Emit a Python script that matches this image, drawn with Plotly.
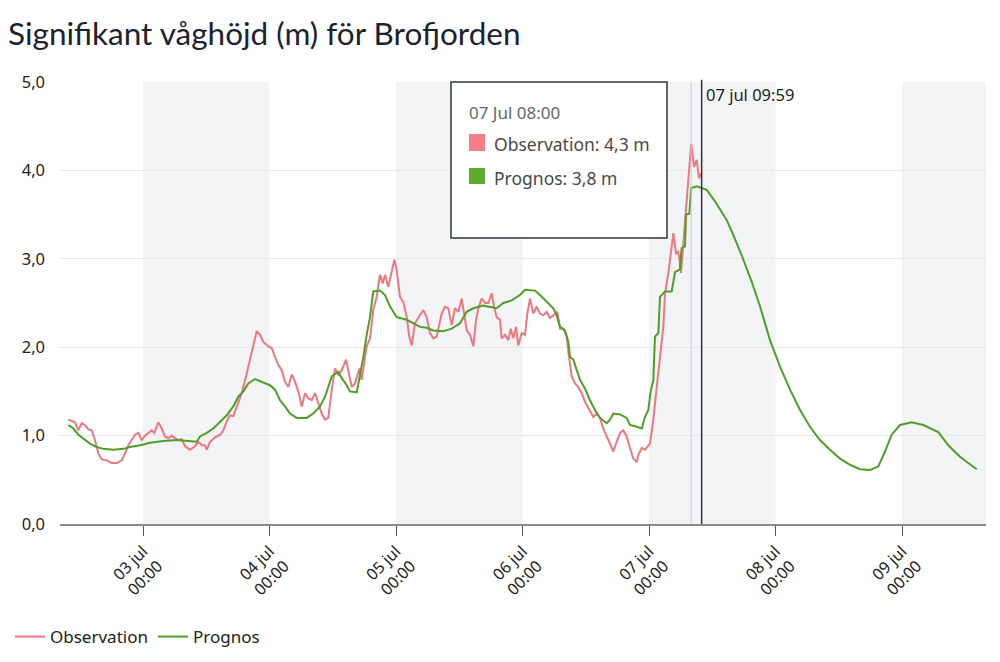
import plotly.graph_objects as go

# ---------------- data ----------------
obs_time = [
    "02 09:50", "02 11:06", "02 11:43", "02 12:22", "02 13:00", "02 13:37", "02 14:16", "02 14:53",
    "02 15:31", "02 16:10", "02 17:07", "02 18:04", "02 19:01", "02 19:58", "02 20:35", "02 21:13",
    "02 21:51", "02 22:29", "02 23:07", "02 23:45", "03 00:23", "03 01:00", "03 01:39", "03 02:09",
    "03 02:54", "03 03:33", "03 04:10", "03 04:48", "03 05:27", "03 06:04", "03 06:42", "03 07:20",
    "03 07:58", "03 08:55", "03 09:52", "03 10:29", "03 11:08", "03 11:46", "03 12:05", "03 12:43",
    "03 13:40", "03 14:37", "03 15:14", "03 15:53", "03 16:30", "03 17:08", "03 17:47", "03 18:44",
    "03 19:40", "03 20:37", "03 21:34", "03 22:12", "03 22:49", "03 23:46", "04 00:25", "04 01:03",
    "04 01:40", "04 02:19", "04 02:56", "04 03:34", "04 04:13", "04 04:50", "04 05:28", "04 06:07",
    "04 06:44", "04 07:22", "04 08:00", "04 08:38", "04 09:15", "04 09:54", "04 10:32", "04 11:09",
    "04 11:48", "04 12:26", "04 13:03", "04 13:42", "04 14:31", "04 14:57", "04 15:36", "04 16:13",
    "04 17:02", "04 17:29", "04 17:56", "04 18:26", "04 19:04", "04 19:41", "04 20:20", "04 20:58",
    "04 21:29", "04 21:55", "04 22:32", "04 23:11", "04 23:41", "05 00:08", "05 00:45", "05 01:23",
    "05 02:02", "05 02:31", "05 02:59", "05 03:36", "05 04:25", "05 05:11", "05 05:49", "05 06:27",
    "05 07:05", "05 07:43", "05 08:40", "05 09:18", "05 09:55", "05 10:34", "05 11:11", "05 11:49",
    "05 12:28", "05 12:54", "05 13:25", "05 14:02", "05 14:40", "05 15:11", "05 15:37", "05 16:16",
    "05 16:53", "05 17:31", "05 18:09", "05 18:35", "05 19:06", "05 19:44", "05 20:03", "05 20:41",
    "05 21:18", "05 21:46", "05 22:15", "05 22:46", "05 23:12", "05 23:51", "06 00:28", "06 00:55",
    "06 01:25", "06 02:03", "06 02:41", "06 03:19", "06 03:56", "06 04:35", "06 05:13", "06 05:50",
    "06 06:36", "06 07:07", "06 07:44", "06 08:23", "06 08:41", "06 09:20", "06 09:58", "06 10:35",
    "06 11:14", "06 11:52", "06 12:29", "06 13:26", "06 14:05", "06 14:42", "06 15:20", "06 15:58",
    "06 16:36", "06 17:14", "06 17:52", "06 18:30", "06 19:07", "06 19:46", "06 20:23", "06 21:01",
    "06 21:40", "06 21:58", "06 22:37", "06 23:14", "07 00:11", "07 00:49", "07 01:28", "07 02:05",
    "07 02:43", "07 03:02", "07 03:40", "07 04:18", "07 04:37", "07 05:07", "07 05:34", "07 06:04",
    "07 06:31", "07 07:01", "07 07:27", "07 07:47", "07 08:00", "07 08:32", "07 09:03", "07 09:29",
    "07 09:52",
]
obs_value = [
    1.18, 1.15, 1.06, 1.14, 1.12, 1.07, 1.06, 0.95,
    0.80, 0.73, 0.72, 0.69, 0.69, 0.72, 0.80, 0.89,
    0.95, 1.01, 1.03, 0.95, 1.00, 1.03, 1.06, 1.03,
    1.15, 1.08, 0.99, 0.97, 1.00, 0.97, 0.95, 0.96,
    0.88, 0.84, 0.88, 0.93, 0.89, 0.89, 0.84, 0.93,
    0.98, 1.01, 1.06, 1.16, 1.23, 1.22, 1.33, 1.48,
    1.70, 1.93, 2.18, 2.14, 2.06, 2.01, 1.99, 1.89,
    1.80, 1.74, 1.61, 1.55, 1.69, 1.61, 1.50, 1.33,
    1.48, 1.42, 1.40, 1.48, 1.38, 1.25, 1.18, 1.20,
    1.52, 1.76, 1.69, 1.74, 1.86, 1.74, 1.55, 1.59,
    1.76, 1.63, 1.82, 2.01, 2.10, 2.42, 2.57, 2.82,
    2.72, 2.82, 2.68, 2.87, 2.99, 2.87, 2.57, 2.51,
    2.34, 2.12, 2.02, 2.27, 2.34, 2.42, 2.34, 2.16,
    2.10, 2.12, 2.38, 2.46, 2.44, 2.25, 2.44, 2.40,
    2.55, 2.38, 2.19, 2.14, 2.01, 2.31, 2.44, 2.55,
    2.50, 2.50, 2.61, 2.46, 2.34, 2.31, 2.10, 2.14,
    2.08, 2.21, 2.10, 2.23, 2.02, 2.16, 2.14, 2.38,
    2.55, 2.38, 2.46, 2.38, 2.36, 2.40, 2.33, 2.36,
    2.40, 2.21, 2.21, 2.12, 1.95, 1.67, 1.59, 1.55,
    1.48, 1.38, 1.31, 1.21, 1.25, 1.20, 1.08, 0.99,
    0.89, 0.82, 0.93, 1.03, 1.06, 0.99, 0.86, 0.74,
    0.70, 0.78, 0.86, 0.84, 0.91, 1.18, 1.55, 1.86,
    2.23, 2.61, 2.84, 3.14, 3.29, 3.06, 3.08, 2.84,
    3.18, 3.48, 3.82, 4.12, 4.30, 4.04, 4.12, 3.91,
    3.97,
]

prog_time = [
    "02 09:50", "02 10:47", "02 11:44", "02 13:00", "02 13:56", "02 15:13", "02 16:28", "02 18:22",
    "02 20:16", "02 21:32", "02 23:26", "03 01:20", "03 03:51", "03 06:24", "03 08:17", "03 10:11",
    "03 10:49", "03 12:05", "03 13:20", "03 14:37", "03 15:53", "03 17:08", "03 18:05", "03 19:02",
    "03 19:59", "03 21:15", "03 22:31", "04 00:05", "04 01:03", "04 01:59", "04 02:56", "04 03:53",
    "04 05:10", "04 07:03", "04 08:18", "04 09:35", "04 10:32", "04 11:09", "04 11:48", "04 13:03",
    "04 13:42", "04 14:39", "04 15:16", "04 16:33", "04 17:10", "04 17:48", "04 18:26", "04 19:04",
    "04 19:41", "04 20:58", "04 21:55", "04 22:52", "04 23:29", "05 00:08", "05 02:02", "05 03:17",
    "05 04:33", "05 05:49", "05 07:05", "05 08:58", "05 10:34", "05 12:08", "05 13:25", "05 14:40",
    "05 16:34", "05 19:06", "05 20:22", "05 21:57", "05 23:31", "06 00:28", "06 02:22", "06 03:19",
    "06 04:35", "06 05:50", "06 06:29", "06 07:07", "06 08:04", "06 08:41", "06 09:01", "06 09:38",
    "06 10:17", "06 10:55", "06 11:52", "06 12:48", "06 13:45", "06 14:42", "06 15:58", "06 16:36",
    "06 17:14", "06 18:30", "06 19:46", "06 20:23", "06 21:40", "06 22:37", "06 23:14", "06 23:52",
    "07 00:19", "07 00:49", "07 01:08", "07 01:46", "07 02:05", "07 03:02", "07 04:18", "07 04:56",
    "07 05:52", "07 06:11", "07 06:50", "07 07:01", "07 07:39", "07 08:00", "07 09:03", "07 10:00",
    "07 10:57", "07 12:31", "07 13:28", "07 14:44", "07 15:59", "07 17:35", "07 19:29", "07 21:04",
    "07 22:57", "08 00:51", "08 02:45", "08 04:39", "08 06:32", "08 08:26", "08 10:20", "08 12:14",
    "08 14:08", "08 16:02", "08 17:56", "08 19:30", "08 20:46", "08 22:02", "08 23:37", "09 01:50",
    "09 04:02", "09 06:53", "09 08:47", "09 11:00", "09 14:10",
]
prog_value = [
    1.12, 1.08, 1.01, 0.95, 0.91, 0.87, 0.85, 0.84,
    0.85, 0.87, 0.89, 0.92, 0.94, 0.95, 0.94, 0.93,
    0.99, 1.03, 1.08, 1.16, 1.23, 1.33, 1.44, 1.50,
    1.59, 1.64, 1.61, 1.57, 1.52, 1.40, 1.33, 1.25,
    1.20, 1.20, 1.25, 1.33, 1.44, 1.55, 1.67, 1.72,
    1.65, 1.57, 1.50, 1.49, 1.67, 1.89, 2.14, 2.34,
    2.63, 2.64, 2.59, 2.46, 2.40, 2.34, 2.31, 2.27,
    2.23, 2.22, 2.19, 2.18, 2.21, 2.27, 2.40, 2.44,
    2.47, 2.44, 2.50, 2.53, 2.59, 2.65, 2.64, 2.59,
    2.51, 2.44, 2.36, 2.23, 2.19, 2.06, 1.89, 1.86,
    1.74, 1.63, 1.53, 1.40, 1.29, 1.20, 1.14, 1.18,
    1.25, 1.24, 1.20, 1.12, 1.10, 1.08, 1.21, 1.29,
    1.50, 1.63, 2.12, 2.16, 2.57, 2.63, 2.63, 2.85,
    2.88, 3.12, 3.14, 3.50, 3.51, 3.80, 3.82, 3.80,
    3.78, 3.65, 3.56, 3.44, 3.27, 3.04, 2.74, 2.46,
    2.08, 1.78, 1.52, 1.29, 1.10, 0.95, 0.84, 0.74,
    0.67, 0.62, 0.61, 0.65, 0.82, 1.01, 1.12, 1.15,
    1.12, 1.04, 0.89, 0.76, 0.62,
]

day_ticks = ["2024-07-03", "2024-07-04", "2024-07-05", "2024-07-06",
             "2024-07-07", "2024-07-08", "2024-07-09"]
day_tick_text = ["03 jul<br>00:00", "04 jul<br>00:00", "05 jul<br>00:00", "06 jul<br>00:00",
                 "07 jul<br>00:00", "08 jul<br>00:00", "09 jul<br>00:00"]
shaded_days = [("2024-07-03", "2024-07-04"), ("2024-07-05", "2024-07-06"),
               ("2024-07-07", "2024-07-08"), ("2024-07-09", "2024-07-09 15:56")]
x_range = ["2024-07-02 08:15", "2024-07-09 15:56"]
y_ticks = [0, 1, 2, 3, 4, 5]

hover_time = "2024-07-07 08:00"
now_time = "2024-07-07 09:59"
now_label = "07 jul 09:59"
hover_label = "07 Jul 08:00"

YEAR_MONTH = "2024-07-"
obs_x = [YEAR_MONTH + t for t in obs_time]
prog_x = [YEAR_MONTH + t for t in prog_time]

RED = "#f07680"
GREEN = "#4f9f26"
FONT = "Noto Sans"

# figure size (page body has an 8px margin in the browser)
W, H = 984, 646
ML, MR, MT, MB = 52, 6, 74, 130
PW, PH = W - ML - MR, H - MT - MB

fig = go.Figure()
fig.add_trace(go.Scatter(x=obs_x, y=obs_value, mode="lines", name="Observation",
                         line=dict(color=RED, width=2)))
fig.add_trace(go.Scatter(x=prog_x, y=prog_value, mode="lines", name="Prognos",
                         line=dict(color=GREEN, width=2)))

shapes = []
for a, b in shaded_days:
    shapes.append(dict(type="rect", xref="x", yref="paper", x0=a, x1=b, y0=0, y1=1,
                       fillcolor="#f3f4f6", line=dict(width=0), layer="below"))
shapes.append(dict(type="line", xref="x", yref="paper", x0=hover_time, x1=hover_time, y0=0, y1=1,
                   line=dict(color="#c9cdd2", width=1)))
shapes.append(dict(type="line", xref="x", yref="paper", x0=now_time, x1=now_time, y0=0, y1=1.005,
                   line=dict(color="#2f3540", width=1.5)))


# tooltip box, positioned in page pixels relative to plot area (plot left = 60, plot bottom = 524)
def px(xp):
    return (xp - 60) / PW


def py(yp):
    return (524 - yp) / PH


shapes.append(dict(type="rect", xref="paper", yref="paper", x0=px(451), x1=px(667), y0=py(238), y1=py(82),
                   fillcolor="white", line=dict(color="#2f3540", width=1.5), layer="above"))
shapes.append(dict(type="rect", xref="paper", yref="paper", x0=px(469), x1=px(485), y0=py(151), y1=py(134),
                   fillcolor="#f47f8a", line=dict(width=0), layer="above"))
shapes.append(dict(type="rect", xref="paper", yref="paper", x0=px(469), x1=px(485), y0=py(184), y1=py(168),
                   fillcolor="#5aab2e", line=dict(width=0), layer="above"))

obs_at = obs_value[obs_x.index(hover_time)]
prog_at = prog_value[prog_x.index(hover_time)]


def fmt(v):
    return f"{v:.1f}".replace(".", ",")


annotations = [
    dict(xref="paper", yref="paper", x=px(467), y=py(113), text=hover_label, showarrow=False,
         xanchor="left", yanchor="middle", font=dict(family=FONT, size=17, color="#666666")),
    dict(xref="paper", yref="paper", x=px(492), y=py(144), text=f"Observation: {fmt(obs_at)} m",
         showarrow=False, xanchor="left", yanchor="middle", font=dict(family=FONT, size=17.5, color="#4a4a4a")),
    dict(xref="paper", yref="paper", x=px(492), y=py(178), text=f"Prognos: {fmt(prog_at)} m",
         showarrow=False, xanchor="left", yanchor="middle", font=dict(family=FONT, size=17.5, color="#4a4a4a")),
    dict(xref="x", yref="paper", x=now_time, y=py(94), text=now_label, showarrow=False,
         xanchor="left", yanchor="middle", xshift=2, font=dict(family=FONT, size=16.5, color="#222222")),
]

fig.update_layout(
    width=W, height=H,
    margin=dict(l=ML, r=MR, t=MT, b=MB, autoexpand=False),
    paper_bgcolor="white", plot_bgcolor="white",
    separators=", ",
    font=dict(family=FONT, size=16, color="#222222"),
    title=dict(text="Signifikant våghöjd (m) för Brofjorden", x=0.0, xref="container", xanchor="left",
               y=1 - 26 / H, yref="container", yanchor="middle",
               font=dict(family="Lato", size=31.5, color="#1d2230")),
    shapes=shapes,
    annotations=annotations,
    showlegend=True,
    legend=dict(orientation="h", xref="container", yref="container", x=2 / W, y=1 - 629 / H,
                xanchor="left", yanchor="middle", font=dict(family=FONT, size=17, color="#222222"),
                itemwidth=30, entrywidth=98, entrywidthmode="pixels", tracegroupgap=0),
    hovermode=False,
)
fig.update_xaxes(range=x_range, type="date", tickvals=day_ticks, ticktext=day_tick_text,
                 tickangle=-45, ticks="outside", ticklen=10, tickcolor="#555555", tickwidth=1,
                 showgrid=False, showline=True, linecolor="#8a8a8a", linewidth=1.5,
                 tickfont=dict(family=FONT, size=16, color="#222222"), zeroline=False)
fig.update_yaxes(range=[0, 5], tickvals=y_ticks, tickformat=".1f", showgrid=True, gridcolor="#e8e8e8",
                 gridwidth=1, zeroline=False, showline=False, ticks="", ticklabelstandoff=14,
                 tickfont=dict(family=FONT, size=16.5, color="#222222"))

fig.write_html("out.html")
